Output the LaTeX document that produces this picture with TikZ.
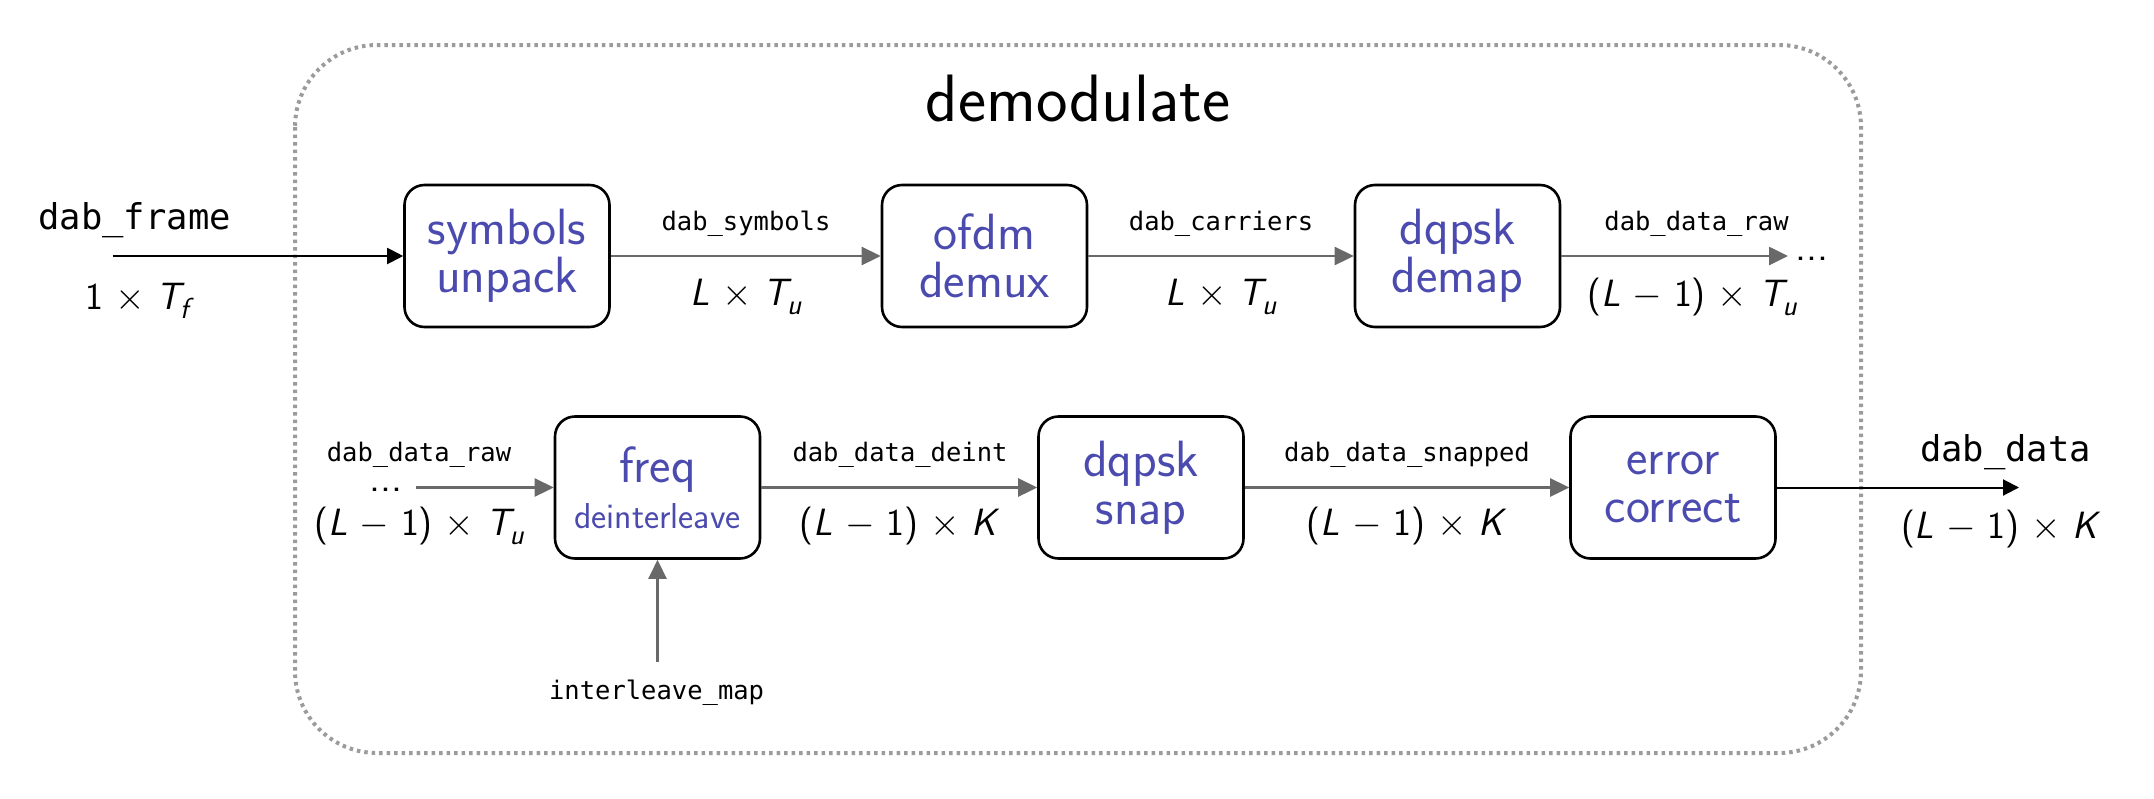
\RequirePackage{fix-cm}
\documentclass[tikz,border=0pt]{standalone}
\usepackage{amsmath}
\usepackage{fontspec}
\setmonofont{DejaVu Sans Mono}
\usetikzlibrary{arrows.meta}
\definecolor{struct}{RGB}{75,75,175}
\definecolor{arrgray}{RGB}{105,105,105}
\definecolor{frgray}{RGB}{155,155,155}
\newcommand\sbs[1]{\kern-1pt\raisebox{-9pt}{\fontsize{29}{30}\selectfont\itshape #1}}
\newcommand\LxTu{\textit{L} $\times$ {\itshape T}\sbs{u}}
\newcommand\LmTu{(\textit{L} $-$ 1) $\times$ {\itshape T}\sbs{u}}
\newcommand\LmK{(\textit{L} $-$ 1) $\times$ \textit{K}}
\tikzset{
  blockbox/.style={draw, line width=2.6pt, rounded corners=20pt, minimum width=205pt,
    minimum height=142pt, inner sep=0pt, align=center, text=struct,
    font=\sffamily\fontsize{51}{48}\selectfont},
  graylink/.style={draw=arrgray, line width=2.6pt, -{Triangle[length=19pt,width=18pt]}},
  blacklink/.style={draw=black, line width=2pt, -{Triangle[length=16pt,width=16pt]}},
  sig/.style={inner sep=0pt, font=\ttfamily\fontsize{25.5}{30}\selectfont},
  bigsig/.style={inner sep=0pt, font=\ttfamily\fontsize{35.5}{40}\selectfont},
  dimlab/.style={inner sep=0pt, font=\sffamily\fontsize{38}{42}\selectfont},
  dotlab/.style={inner sep=0pt, font=\sffamily\fontsize{42}{46}\selectfont},
}
\begin{document}
\begin{tikzpicture}[x=1pt,y=-1pt]
\useasboundingbox (0,0) rectangle (2154,798);
% container
\draw[frgray, line width=4pt, dash pattern=on 3.5pt off 4pt, rounded corners=82pt]
  (295,45) rectangle (1861,753);
\node[inner sep=0pt, font=\sffamily\fontsize{67}{72}\selectfont] (title) at (1078,99) {demodulate};
% row 1
\node[blockbox] (b1) at (507,256) {symbols\\unpack};
\node[blockbox] (b2) at (984.5,256) {ofdm\\demux};
\node[blockbox] (b3) at (1457.5,256) {dqpsk\\demap};
% row 2
\node[blockbox] (b4) at (657.5,487.5) {freq\\[-2pt]{\fontsize{36}{40}\selectfont deinterleave}};
\node[blockbox] (b5) at (1141,487.5) {dqpsk\\snap};
\node[blockbox] (b6) at (1673,487.5) {error\\correct};
% input
\node[bigsig] (fin) at (134.6,219.8) {dab\_frame};
\node[dimlab] (finlab) at (137,301) {1 $\times$ {\itshape T}\sbs{f}};
\coordinate (finstart) at (112.6,256);
\draw[blacklink] (finstart) -- (b1.west);
% row 1 links
\draw[graylink] (b1.east) -- (b2.west);
\node[sig] (s1) at (746,224) {dab\_symbols};
\node[dimlab] (d1) at (746,297) {\LxTu};
\draw[graylink] (b2.east) -- (b3.west);
\node[sig] (s2) at (1221,224) {dab\_carriers};
\node[dimlab] (d2) at (1221,297) {\LxTu};
\coordinate (r1end) at (1788,256);
\draw[graylink] (b3.east) -- (r1end);
\node[dotlab] (dots1) at (1812,259) {...};
\node[sig] (s3) at (1696.5,224) {dab\_data\_raw};
\node[dimlab] (d3) at (1692,297) {\LmTu};
% row 2 links
\node[dotlab] (dots2) at (386,490) {...};
\coordinate (r2start) at (416,487.5);
\draw[graylink] (r2start) -- (b4.west);
\node[sig] (s4) at (419,454.7) {dab\_data\_raw};
\node[dimlab] (d4) at (419,526) {\LmTu};
\draw[graylink] (b4.east) -- (b5.west);
\node[sig] (s5) at (900,454.7) {dab\_data\_deint};
\node[dimlab] (d5) at (900,526) {\LmK};
\draw[graylink] (b5.east) -- (b6.west);
\node[sig] (s6) at (1407,454.7) {dab\_data\_snapped};
\node[dimlab] (d6) at (1407,526) {\LmK};
\coordinate (outend) at (2019,487.5);
\draw[blacklink] (b6.east) -- (outend);
\node[bigsig] (fout) at (2005.6,452) {dab\_data};
\node[dimlab] (doutlab) at (2001,529) {\LmK};
% interleave map
\node[sig] (imap) at (656.6,692.3) {interleave\_map};
\coordinate (imapstart) at (657.5,662);
\draw[graylink] (imapstart) -- (b4.south);
\end{tikzpicture}
\end{document}
